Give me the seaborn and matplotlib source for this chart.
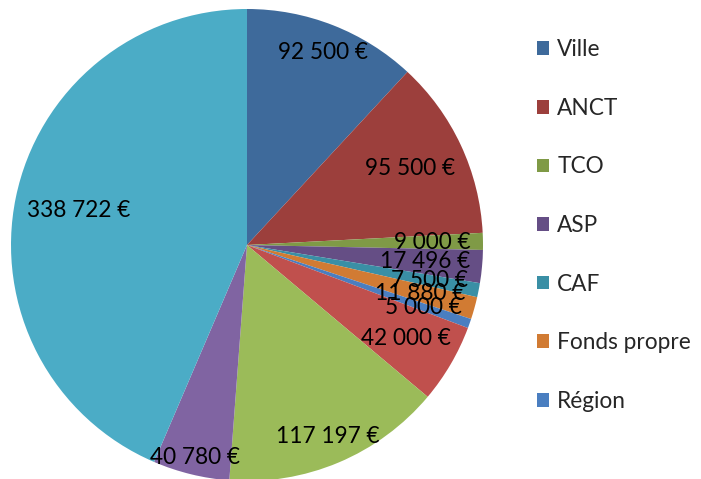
import numpy as np
import matplotlib
matplotlib.use("Agg")
import matplotlib.pyplot as plt
import seaborn as sns

# pie data (clockwise from top)
values = [92500, 95500, 9000, 17496, 7500, 11880, 5000, 42000, 117197, 40780, 338722]
legend_names = ["Ville", "ANCT", "TCO", "ASP", "CAF", "Fonds propre", "Région"]
colors = ["#3E6A9B", "#9C3F3C", "#7F9A46", "#654E85", "#3A8FA5", "#D17B33", "#4A7EC0",
          "#C0504D", "#9BBB59", "#8064A2", "#4BACC6"]

sns.set_theme(style="white")
plt.rcParams['font.family'] = ['Lato', 'DejaVu Sans']

fig = plt.figure(figsize=(7.01, 4.79), dpi=100)
ax = fig.add_axes([11 / 701, -2 / 479, 472 / 701, 472 / 479])

wedges, _ = ax.pie(values, colors=sns.color_palette(colors), startangle=90, counterclock=False,
                   radius=1, wedgeprops=dict(linewidth=0))
ax.set_xlim(-1, 1)
ax.set_ylim(-1, 1)
ax.set_aspect("equal")
ax.axis("off")

#labels placed "inside end" like excel
fig.canvas.draw()
renderer = fig.canvas.get_renderer()
inv = ax.transData.inverted()
for w, v in zip(wedges, values):
    lab = f"{v:,}".replace(",", " ") + " €"
    t = ax.text(0, 0, lab, ha="center", va="center", fontsize=16.3, color="black")
    bb = t.get_window_extent(renderer)
    p0 = inv.transform((bb.x0, bb.y0))
    p1 = inv.transform((bb.x1, bb.y1))
    hw = (p1[0] - p0[0]) / 2
    hh = (p1[1] - p0[1]) / 2
    ang = np.deg2rad((w.theta1 + w.theta2) / 2)
    c, s = np.cos(ang), np.sin(ang)
    r = 1.01 - (hw * abs(c) + hh * abs(s)) - 0.06 * abs(c) + 0.02 * max(-s, 0)
    t.set_position((r * c, r * s))

ax.legend(wedges[:7], legend_names, loc="upper left", bbox_to_anchor=(1.095, 0.955),
          frameon=False, fontsize=16.3, handlelength=0.55, handleheight=0.55,
          handletextpad=0.35, labelspacing=1.66, borderaxespad=0)

fig.savefig("out.png", dpi=100)
